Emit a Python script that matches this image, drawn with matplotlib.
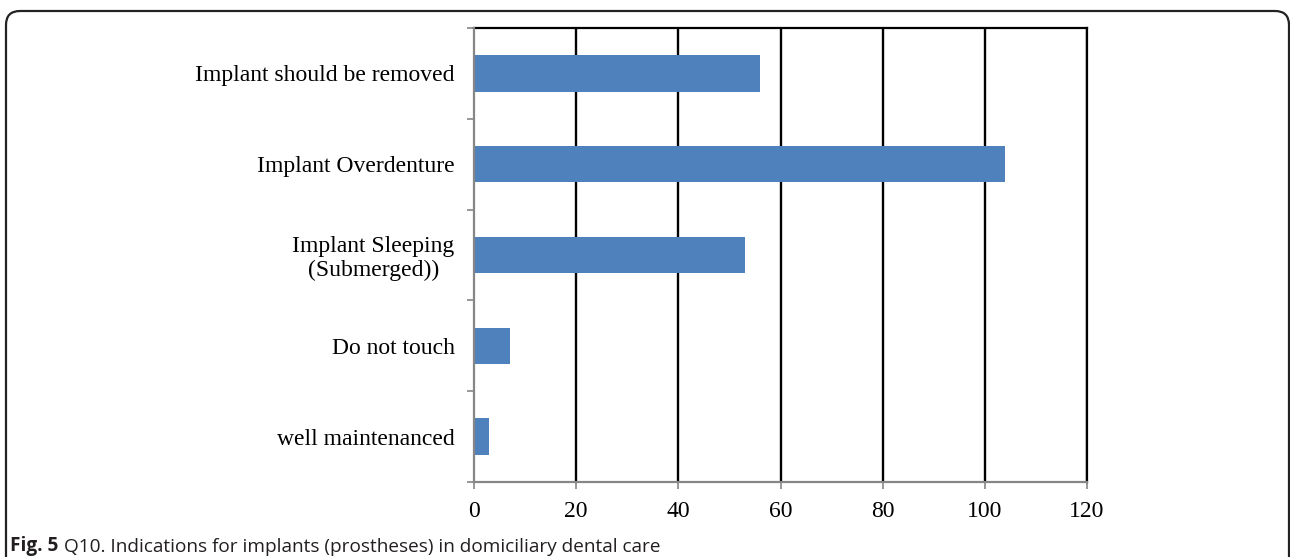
import matplotlib
matplotlib.use('Agg')
import matplotlib.pyplot as plt
from matplotlib.patches import FancyBboxPatch
from matplotlib.transforms import IdentityTransform

categories = ['well maintenanced', 'Do not touch', 'Implant Sleeping\n(Submerged))',
              'Implant Overdenture', 'Implant should be removed']
values = [3, 7, 53, 104, 56]
xticks = [0, 20, 40, 60, 80, 100, 120]

W, H = 1290, 557
fig = plt.figure(figsize=(W / 100, H / 100), dpi=100)
ax = fig.add_axes([474 / W, 1 - 482 / H, (1087 - 474) / W, (482 - 28) / H])

pos = list(range(len(categories)))
ax.barh(pos, values, height=0.4, color='#4F81BD', zorder=3)
ax.set_xlim(0, 120)
ax.set_ylim(-0.5, len(categories) - 0.5)

ax.set_xticks(xticks)
ax.set_xticklabels([str(v) for v in xticks])
for v in xticks[1:]:
    ax.axvline(v, color='black', lw=1.7, zorder=1)

ax.set_yticks([p - 0.5 for p in pos] + [pos[-1] + 0.5])
ax.set_yticklabels([])
ax.set_yticks(pos, minor=True)
ax.set_yticklabels(categories, minor=True)
for lbl in ax.get_yticklabels(minor=True):
    lbl.set_multialignment('center')
    lbl.set_linespacing(1.15)

serif = ['Liberation Serif', 'DejaVu Serif']
ax.tick_params(axis='y', which='major', length=5, width=1.2, color='#868686', direction='out')
ax.tick_params(axis='y', which='minor', length=0, pad=14, labelsize=17)
ax.tick_params(axis='x', length=5, width=1.2, color='#868686', pad=9, labelsize=17)
for lbl in ax.get_xticklabels() + ax.get_yticklabels(minor=True):
    lbl.set_fontfamily(serif)

for s in ['left', 'bottom']:
    ax.spines[s].set_color('#868686')
    ax.spines[s].set_linewidth(1.6)
    ax.spines[s].set_zorder(4)
for s in ['top', 'right']:
    ax.spines[s].set_color('black')
    ax.spines[s].set_linewidth(1.6)

# rounded frame around the figure
frame = FancyBboxPatch((6, -30), 1283, H - 11 + 30,
                       boxstyle='round,pad=0,rounding_size=14',
                       transform=IdentityTransform(), fill=False,
                       edgecolor='#222222', lw=1.6, clip_on=False)
fig.patches.append(frame)

t1 = fig.text(10 / W, 6 / H, 'Fig. 5', fontsize=13.7, fontweight='bold',
              family='Open Sans', color='#231F20', va='baseline')
ax.annotate('Q10. Indications for implants (prostheses) in domiciliary dental care',
            xy=(1, 0), xycoords=t1, xytext=(4, 0), textcoords='offset points',
            fontsize=13.7, family='Open Sans', color='#231F20', va='bottom',
            annotation_clip=False)

fig.savefig('out.png', dpi=100)
